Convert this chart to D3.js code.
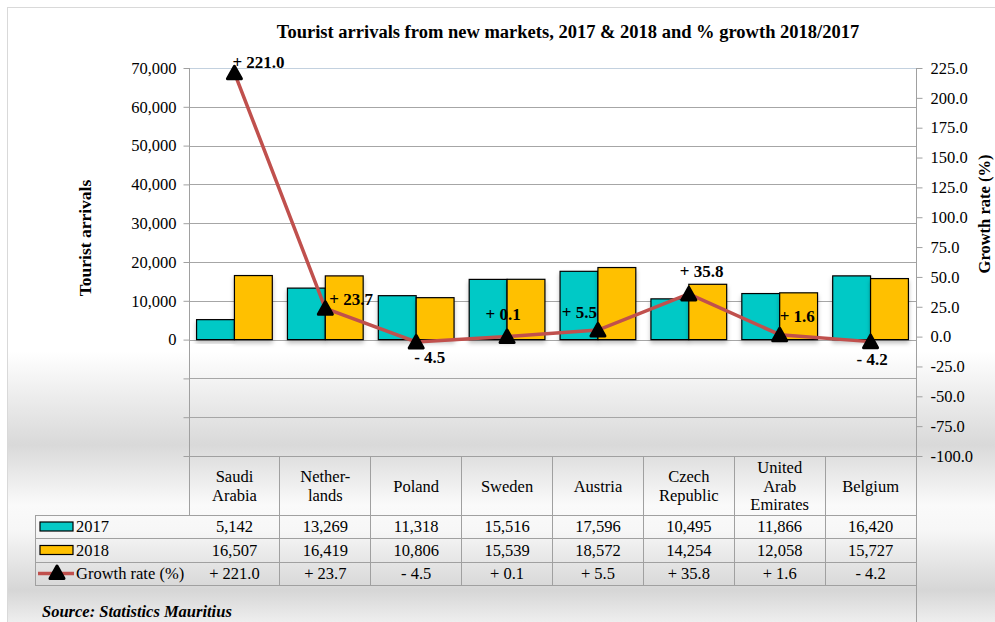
<!DOCTYPE html>
<html>
<head>
<meta charset="utf-8">
<script src="https://cdn.jsdelivr.net/npm/d3@7"></script>
<style>
  body { margin: 0; background: #fff; }
  svg { display: block; font-family: "Liberation Serif", "Times New Roman", serif; }
  .axis path, .axis line { stroke: #a0a0a0; }
  .axis text { fill: #000; }
</style>
</head>
<body>
<svg id="chart" width="995" height="622"></svg>
<script>
// chart data
const categories = ["Saudi\nArabia", "Nether-\nlands", "Poland", "Sweden", "Austria", "Czech\nRepublic", "United\nArab\nEmirates", "Belgium"];
const years = ["2017", "2018"];
const arrivals2017 = [5142, 13269, 11318, 15516, 17596, 10495, 11866, 16420];
const arrivals2018 = [16507, 16419, 10806, 15539, 18572, 14254, 12058, 15727];
const growthRate = [221.0, 23.7, -4.5, 0.1, 5.5, 35.8, 1.6, -4.2];
const leftTicks = [-30000, -20000, -10000, 0, 10000, 20000, 30000, 40000, 50000, 60000, 70000];
const rightTicks = [-100, -75, -50, -25, 0, 25, 50, 75, 100, 125, 150, 175, 200, 225];

// where each growth label sits relative to its marker [dx, dy, anchor]
const labelPlace = [[-2, -5, "start"], [4, -3, "start"], [-2, 21, "start"], [-4, -16, "middle"],
                    [-1, -12, "end"], [-9, -17, "start"], [0, -13, "start"], [-14, 23, "start"]];

const colors = { "2017": "#06c9c6", "2018": "#ffc000" };
const lineColor = "#c0504d";
const fontFamily = '"Liberation Serif", "Times New Roman", serif';
const textSize = 16.5;

const svg = d3.select("#chart");
const plotLeft = 189, plotRight = 916, plotTop = 68, plotBottom = 456;

const defs = svg.append("defs");
const grad = defs.append("linearGradient")
  .attr("id", "bg").attr("gradientUnits", "userSpaceOnUse")
  .attr("x1", 0).attr("x2", 0).attr("y1", 7).attr("y2", 622);
[[0, "#ffffff"], [0.56, "#ffffff"], [0.712, "#d9d9d9"], [0.81, "#fafafa"],
 [0.85, "#f7f7f7"], [0.948, "#d6d6d6"], [1, "#eeeeee"]].forEach(([o, c]) => {
  grad.append("stop").attr("offset", o).attr("stop-color", c);
});
defs.append("filter").attr("id", "shadow").attr("x", "-20%").attr("y", "-20%")
  .attr("width", "140%").attr("height", "140%")
  .append("feDropShadow").attr("dx", 0).attr("dy", 3).attr("stdDeviation", 2)
  .attr("flood-color", "#000").attr("flood-opacity", 0.25);

// chart area
svg.append("rect").attr("x", 7.5).attr("y", 7.5).attr("width", 1000).attr("height", 640)
  .attr("fill", "url(#bg)").attr("stroke", "#d9d9d9");

svg.append("text").attr("x", 568).attr("y", 38).attr("text-anchor", "middle")
  .attr("font-size", 18.5).attr("font-weight", "bold")
  .text("Tourist arrivals from new markets, 2017 & 2018 and % growth 2018/2017");

// scales
const x = d3.scaleBand().domain(categories).range([plotLeft, plotRight]);
const xYear = d3.scaleBand().domain(years).range([0, x.bandwidth()]).paddingOuter(0.2);
const yL = d3.scaleLinear().domain([-30000, 70000]).range([plotBottom, plotTop]);
const yR = d3.scaleLinear().domain([-100, 225]).range([plotBottom, plotTop]);

// gridlines
svg.append("g").selectAll("line")
  .data(leftTicks.filter(t => t > -30000))
  .enter().append("line")
  .attr("x1", plotLeft).attr("x2", plotRight)
  .attr("y1", d => Math.round(yL(d)) + 0.5).attr("y2", d => Math.round(yL(d)) + 0.5)
  .attr("stroke", d => d === 70000 ? "#c3d1df" : "#a6a6a6");

// axes
const fmt = d3.format(",");
const gL = svg.append("g").attr("class", "axis")
  .attr("transform", `translate(${plotLeft + 0.5},0)`)
  .call(d3.axisLeft(yL).tickValues(leftTicks).tickSize(6).tickPadding(7)
    .tickFormat(d => d < 0 ? "" : fmt(d)))
  .attr("font-family", fontFamily).attr("font-size", textSize);
gL.select(".domain").remove();
gL.append("line").attr("y1", plotTop).attr("y2", 515).attr("stroke", "#a0a0a0");

const gR = svg.append("g").attr("class", "axis")
  .attr("transform", `translate(${plotRight + 0.5},0)`)
  .call(d3.axisRight(yR).tickValues(rightTicks).tickSize(6).tickPadding(8)
    .tickFormat(d => d.toFixed(1)))
  .attr("font-family", fontFamily).attr("font-size", textSize);
gR.select(".domain").remove();
gR.append("line").attr("y1", plotTop).attr("y2", 622).attr("stroke", "#a0a0a0");

svg.append("text").attr("transform", "translate(91,238) rotate(-90)")
  .attr("text-anchor", "middle").attr("font-size", 17.5).attr("font-weight", "bold")
  .text("Tourist arrivals");
svg.append("text").attr("transform", "translate(990,214) rotate(-90)")
  .attr("text-anchor", "middle").attr("font-size", 16.5).attr("font-weight", "bold")
  .text("Growth rate (%)");

// bars
const series = { "2017": arrivals2017, "2018": arrivals2018 };
const groups = svg.append("g").selectAll("g")
  .data(categories).enter().append("g")
  .attr("transform", d => `translate(${x(d)},0)`);
groups.selectAll("rect")
  .data((d, i) => years.map(yr => ({ yr, v: series[yr][i] })))
  .enter().append("rect")
  .attr("x", d => xYear(d.yr))
  .attr("y", d => yL(d.v))
  .attr("width", xYear.bandwidth())
  .attr("height", d => yL(0) - yL(d.v))
  .attr("fill", d => colors[d.yr])
  .attr("stroke", "#000").attr("stroke-width", 1.2)
  .attr("filter", "url(#shadow)");

// growth line
const cx = (d, i) => x(categories[i]) + x.bandwidth() / 2;
svg.append("path")
  .datum(growthRate)
  .attr("fill", "none").attr("stroke", lineColor).attr("stroke-width", 3.5)
  .attr("d", d3.line().x(cx).y(d => yR(d)));

const tri = "M0,-6.5 L7,6 L-7,6 Z";
svg.append("g").selectAll("path")
  .data(growthRate).enter().append("path")
  .attr("transform", (d, i) => `translate(${cx(d, i)},${yR(d)})`)
  .attr("d", tri).attr("fill", "#000").attr("stroke", "#000")
  .attr("stroke-width", 3).attr("stroke-linejoin", "round");

const growthFmt = d => (d < 0 ? "- " : "+ ") + Math.abs(d).toFixed(1);
svg.append("g").selectAll("text")
  .data(growthRate).enter().append("text")
  .attr("x", (d, i) => cx(d, i) + labelPlace[i][0])
  .attr("y", (d, i) => yR(d) + labelPlace[i][1])
  .attr("text-anchor", (d, i) => labelPlace[i][2])
  .attr("font-size", 17).attr("font-weight", "bold")
  .text(growthFmt);

// data table
const rowTop = [515, 538, 562], rowBot = 585, legendLeft = 35;
const grid = svg.append("g").attr("stroke", "#a0a0a0").attr("shape-rendering", "crispEdges");
grid.append("line").attr("x1", plotLeft - 4).attr("x2", plotRight).attr("y1", plotBottom).attr("y2", plotBottom);
rowTop.concat([rowBot]).forEach(y => {
  grid.append("line").attr("x1", legendLeft).attr("x2", plotRight).attr("y1", y).attr("y2", y);
});
grid.append("line").attr("x1", legendLeft).attr("x2", legendLeft).attr("y1", rowTop[0]).attr("y2", rowBot);
categories.forEach((c, i) => {
  if (i === 0) return;
  grid.append("line").attr("x1", x(c)).attr("x2", x(c)).attr("y1", plotBottom).attr("y2", rowBot);
});

const headers = svg.append("g").selectAll("text")
  .data(categories).enter().append("text")
  .attr("text-anchor", "middle").attr("font-size", textSize);
headers.each(function (d) {
  const lines = d.split("\n");
  const t = d3.select(this);
  lines.forEach((ln, j) => {
    t.append("tspan")
      .attr("x", x(d) + x.bandwidth() / 2)
      .attr("y", 486 + (j - (lines.length - 1) / 2) * 18.5 + 5.5)
      .text(ln);
  });
});

const rows = [arrivals2017.map(fmt), arrivals2018.map(fmt), growthRate.map(growthFmt)];
rows.forEach((vals, r) => {
  const yMid = (rowTop[r] + (rowTop[r + 1] || rowBot)) / 2;
  svg.append("g").selectAll("text")
    .data(vals).enter().append("text")
    .attr("x", (d, i) => x(categories[i]) + x.bandwidth() / 2)
    .attr("y", yMid + 5.5)
    .attr("text-anchor", "middle").attr("font-size", textSize)
    .text(d => d);
});

// legend keys inside table
const legendNames = ["2017", "2018", "Growth rate (%)"];
legendNames.forEach((name, r) => {
  const yMid = (rowTop[r] + (rowTop[r + 1] || rowBot)) / 2;
  if (r < 2) {
    svg.append("rect").attr("x", 40).attr("y", yMid - 4.5).attr("width", 33).attr("height", 9)
      .attr("fill", colors[name]).attr("stroke", "#000").attr("stroke-width", 1.2);
  } else {
    svg.append("line").attr("x1", 38).attr("x2", 74).attr("y1", yMid).attr("y2", yMid)
      .attr("stroke", lineColor).attr("stroke-width", 3.5);
    svg.append("path").attr("transform", `translate(57,${yMid - 1})`).attr("d", tri)
      .attr("fill", "#000").attr("stroke", "#000").attr("stroke-width", 3)
      .attr("stroke-linejoin", "round");
  }
  svg.append("text").attr("x", 76).attr("y", yMid + 5.5).attr("font-size", textSize).text(name);
});

svg.append("text").attr("x", 42).attr("y", 617)
  .attr("font-size", 16.5).attr("font-weight", "bold").attr("font-style", "italic")
  .text("Source: Statistics Mauritius");
</script>
</body>
</html>
